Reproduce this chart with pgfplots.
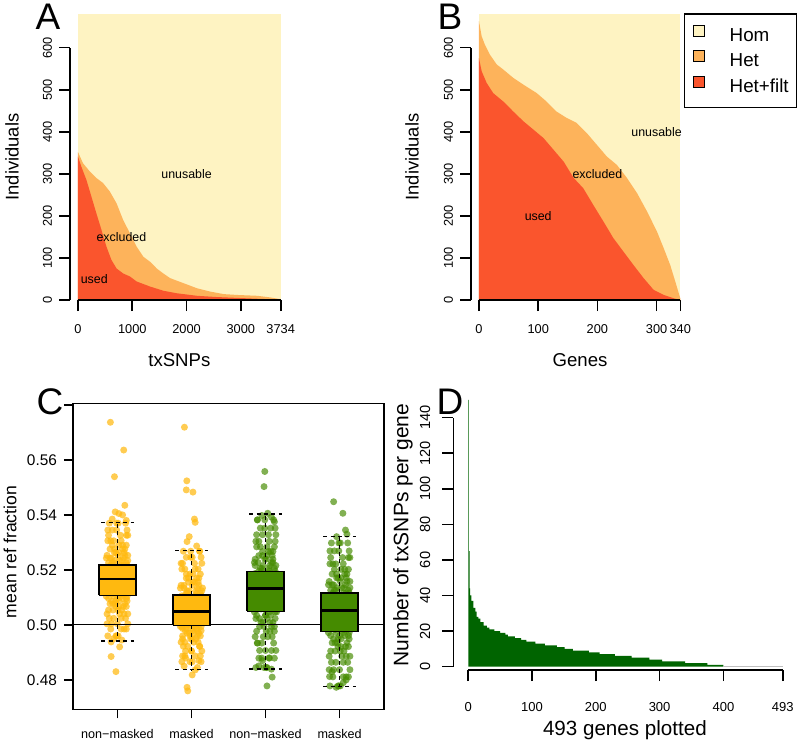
\documentclass[border=0pt]{standalone}
\usepackage{pgfplots}
\pgfplotsset{compat=1.18}
\usepackage{pgfplotstable}
\usepackage{fontspec}
\setmainfont{Liberation Sans}
\definecolor{hom}{HTML}{FEF3C2}
\definecolor{het}{HTML}{FDB35B}
\definecolor{hetf}{HTML}{FA552D}
\definecolor{gold}{HTML}{FFB90F}
\definecolor{grn}{HTML}{458B00}
\definecolor{dgreen}{HTML}{006400}
\newcommand{\fs}[1]{\fontsize{#1}{#1}\selectfont}

\pgfplotsset{
  rstyle/.style={scale only axis, axis lines*=left, axis line style={draw=none},
    tick align=outside, major tick length=5.5pt, minor tick num=0,
    every tick/.append style={black, line width=0.8pt},
    clip=false, enlargelimits=false,
    /pgf/number format/assume math mode=true},
  gpts/.style={only marks, mark=*, mark size=1.75pt,
    mark options={solid, fill=gold, draw=gold, fill opacity=0.72, draw opacity=0}},
  vpts/.style={only marks, mark=*, mark size=1.75pt,
    mark options={solid, fill=grn, draw=grn, fill opacity=0.68, draw opacity=0}},
  wsk/.style={black, line width=0.7pt, dash pattern=on 2pt off 1.7pt},
  bx/.style={solid, draw=black, line width=0.6pt},
  med/.style={solid, black, line width=1.4pt},
}

\pgfplotstableread{
y a b c
0.5167 -0.12 0.04 -0.06
0.5173 0.07 -0.13 0.12
0.5179 -0.02 0.11 0.03
0.5185 0.13 -0.06 -0.10
0.5190 -0.08 0.01 0.09
0.5197 0.03 -0.11 -0.02
0.5204 0.10 0.14 -0.13
0.5210 -0.14 0.06 0.01
0.5217 0.05 -0.09 0.13
0.5226 -0.05 0.12 -0.07
0.5234 0.14 -0.03 0.06
0.5243 -0.10 0.08 -0.15
0.5253 0.01 -0.14 0.10
0.5263 0.09 0.02 -0.04
0.5276 -0.04 0.10 0.07
0.5290 0.12 -0.07 0.02
0.5306 -0.13 0.05 -0.09
0.5326 0.04 -0.12 0.14
0.5345 -0.07 0.13 -0.01
0.5370 0.11 -0.01 -0.11
0.5163 -0.01 0.09 0.05
0.5157 0.08 -0.04 -0.13
0.5151 -0.11 0.12 0.02
0.5145 0.02 -0.13 0.10
0.5140 0.14 0.03 -0.07
0.5133 -0.09 0.07 0.12
0.5126 0.06 -0.10 -0.01
0.5120 -0.03 0.13 -0.10
0.5113 0.10 -0.06 0.04
0.5104 -0.15 0.05 0.13
0.5096 0.00 -0.12 0.07
0.5087 0.13 0.02 -0.08
0.5077 -0.06 0.10 -0.03
0.5067 0.08 -0.02 0.12
0.5054 -0.12 0.06 0.01
0.5040 0.03 -0.14 0.09
0.5024 0.11 -0.05 -0.11
0.5004 -0.08 0.14 0.00
0.4985 0.05 -0.09 0.12
0.4960 -0.02 0.01 -0.13
}\gA
\pgfplotstableread{
y a b c
0.5051 -0.12 0.04 -0.06
0.5057 0.07 -0.13 0.12
0.5063 -0.02 0.11 0.03
0.5070 0.13 -0.06 -0.10
0.5076 -0.08 0.01 0.09
0.5083 0.03 -0.11 -0.02
0.5090 0.10 0.14 -0.13
0.5098 -0.14 0.06 0.01
0.5106 0.05 -0.09 0.13
0.5115 -0.05 0.12 -0.07
0.5124 0.14 -0.03 0.06
0.5134 -0.10 0.08 -0.15
0.5144 0.01 -0.14 0.10
0.5156 0.09 0.02 -0.04
0.5170 -0.04 0.10 0.07
0.5185 0.12 -0.07 0.02
0.5203 -0.13 0.05 -0.09
0.5224 0.04 -0.12 0.14
0.5246 -0.07 0.13 -0.01
0.5268 0.11 -0.01 -0.11
0.5046 -0.01 0.09 0.05
0.5041 0.08 -0.04 -0.13
0.5036 -0.11 0.12 0.02
0.5030 0.02 -0.13 0.10
0.5025 0.14 0.03 -0.07
0.5020 -0.09 0.07 0.12
0.5014 0.06 -0.10 -0.01
0.5008 -0.03 0.13 -0.10
0.5001 0.10 -0.06 0.04
0.4994 -0.15 0.05 0.13
0.4987 0.00 -0.12 0.07
0.4979 0.13 0.02 -0.08
0.4970 -0.06 0.10 -0.03
0.4960 0.08 -0.02 0.12
0.4949 -0.12 0.06 0.01
0.4937 0.03 -0.14 0.09
0.4922 0.11 -0.05 -0.11
0.4905 -0.08 0.14 0.00
0.4887 0.05 -0.09 0.12
0.4866 -0.02 0.01 -0.13
}\gB
\pgfplotstableread{
y a b c
0.5135 -0.12 0.04 -0.06
0.5142 0.07 -0.13 0.12
0.5149 -0.02 0.11 0.03
0.5156 0.13 -0.06 -0.10
0.5163 -0.08 0.01 0.09
0.5171 0.03 -0.11 -0.02
0.5179 0.10 0.14 -0.13
0.5187 -0.14 0.06 0.01
0.5196 0.05 -0.09 0.13
0.5206 -0.05 0.12 -0.07
0.5216 0.14 -0.03 0.06
0.5227 -0.10 0.08 -0.15
0.5239 0.01 -0.14 0.10
0.5252 0.09 0.02 -0.04
0.5267 -0.04 0.10 0.07
0.5284 0.12 -0.07 0.02
0.5304 -0.13 0.05 -0.09
0.5328 0.04 -0.12 0.14
0.5352 -0.07 0.13 -0.01
0.5382 0.11 -0.01 -0.11
0.5129 -0.01 0.09 0.05
0.5121 0.08 -0.04 -0.13
0.5112 -0.11 0.12 0.02
0.5104 0.02 -0.13 0.10
0.5096 0.14 0.03 -0.07
0.5087 -0.09 0.07 0.12
0.5078 0.06 -0.10 -0.01
0.5069 -0.03 0.13 -0.10
0.5058 0.10 -0.06 0.04
0.5047 -0.15 0.05 0.13
0.5035 0.00 -0.12 0.07
0.5023 0.13 0.02 -0.08
0.5009 -0.06 0.10 -0.03
0.4994 0.08 -0.02 0.12
0.4977 -0.12 0.06 0.01
0.4957 0.03 -0.14 0.09
0.4934 0.11 -0.05 -0.11
0.4907 -0.08 0.14 0.00
0.4879 0.05 -0.09 0.12
0.4845 -0.02 0.01 -0.13
}\gC
\pgfplotstableread{
y a b c
0.5056 -0.12 0.04 -0.06
0.5063 0.07 -0.13 0.12
0.5070 -0.02 0.11 0.03
0.5077 0.13 -0.06 -0.10
0.5083 -0.08 0.01 0.09
0.5091 0.03 -0.11 -0.02
0.5099 0.10 0.14 -0.13
0.5107 -0.14 0.06 0.01
0.5116 0.05 -0.09 0.13
0.5126 -0.05 0.12 -0.07
0.5135 0.14 -0.03 0.06
0.5146 -0.10 0.08 -0.15
0.5158 0.01 -0.14 0.10
0.5171 0.09 0.02 -0.04
0.5185 -0.04 0.10 0.07
0.5202 0.12 -0.07 0.02
0.5222 -0.13 0.05 -0.09
0.5245 0.04 -0.12 0.14
0.5269 -0.07 0.13 -0.01
0.5298 0.11 -0.01 -0.11
0.5050 -0.01 0.09 0.05
0.5042 0.08 -0.04 -0.13
0.5034 -0.11 0.12 0.02
0.5027 0.02 -0.13 0.10
0.5019 0.14 0.03 -0.07
0.5010 -0.09 0.07 0.12
0.5001 0.06 -0.10 -0.01
0.4993 -0.03 0.13 -0.10
0.4983 0.10 -0.06 0.04
0.4972 -0.15 0.05 0.13
0.4961 0.00 -0.12 0.07
0.4949 0.13 0.02 -0.08
0.4935 -0.06 0.10 -0.03
0.4921 0.08 -0.02 0.12
0.4905 -0.12 0.06 0.01
0.4886 0.03 -0.14 0.09
0.4864 0.11 -0.05 -0.11
0.4837 -0.08 0.14 0.00
0.4811 0.05 -0.09 0.12
0.4778 -0.02 0.01 -0.13
}\gD

\begin{document}
\begin{tikzpicture}
\useasboundingbox (0,0) rectangle (400pt,-372pt);

% ---------------- Panel A ----------------
\begin{axis}[rstyle, at={(35pt,-150pt)}, anchor=south west,
  width=105.35pt, height=143pt,
  xmin=-147, xmax=3734, ymin=0, ymax=680,
  xtick={0,1000,2000,3000,3734}, xticklabels={0,1000,2000,3000,3734},
  ytick={0,100,200,300,400,500,600}, yticklabels={0,100,200,300,400,500,600},
  xticklabel style={font=\fs{6.4}, yshift=-3pt},
  yticklabel style={font=\fs{6.4}, rotate=90, anchor=south},
  xlabel={txSNPs}, ylabel={Individuals},
  xlabel style={font=\fs{9.3}, at={(axis description cs:0.519,-0.21)}, anchor=center},
  ylabel style={font=\fs{9.2}, at={(axis description cs:-0.275,0.5)}, anchor=center},
]
\addplot[fill=hom, draw=none] coordinates {(0,0) (0,680) (3734,680) (3734,0)};
\addplot[fill=het, draw=none] coordinates {(0,0) (0,352) (93,325) (216,306) (339,290) (463,278) (586,258) (710,230) (833,190) (956,159) (1080,127) (1203,103) (1327,91) (1450,75) (1573,63) (1697,52) (1944,40) (2190,28) (2437,20) (2684,14) (2931,12) (3301,10) (3548,6) (3734,2) (3734,0)};
\addplot[fill=hetf, draw=none] coordinates {(0,0) (0,341) (62,317) (154,286) (247,246) (339,206) (432,167) (524,127) (617,95) (710,75) (833,63) (956,56) (1080,44) (1327,32) (1573,22) (1820,16) (2190,10) (2561,7) (2931,5) (3301,3) (3734,1) (3734,0)};
\draw[line width=0.8pt] (axis cs:-147,0) -- (axis cs:-147,600);
\draw[line width=0.8pt] (axis cs:0,0) -- (axis cs:3734,0);
\node[font=\fs{6.2}] at (axis cs:2000,300) {unusable};
\node[font=\fs{6.2}] at (axis cs:800,150) {excluded};
\node[font=\fs{6.2}] at (axis cs:300,50) {used};
\end{axis}

% ---------------- Panel B ----------------
\begin{axis}[rstyle, at={(235.5pt,-150pt)}, anchor=south west,
  width=104.65pt, height=143pt,
  xmin=-13.5, xmax=340, ymin=0, ymax=680,
  xtick={0,100,200,300,340}, xticklabels={0,100,200,300,340},
  ytick={0,100,200,300,400,500,600}, yticklabels={0,100,200,300,400,500,600},
  xticklabel style={font=\fs{6.4}, yshift=-3pt},
  yticklabel style={font=\fs{6.4}, rotate=90, anchor=south},
  xlabel={Genes}, ylabel={Individuals},
  xlabel style={font=\fs{9.3}, at={(axis description cs:0.521,-0.21)}, anchor=center},
  ylabel style={font=\fs{9.2}, at={(axis description cs:-0.282,0.5)}, anchor=center},
  legend cell align=left,
  legend style={at={(axis description cs:1.559,1.0024)}, anchor=north east,
    draw=black, line width=0.6pt, font=\fs{9.4},
    inner xsep=4pt, inner ysep=5.5pt, row sep=2.5pt, column sep=12.5pt,
    nodes={inner sep=0pt, text height=7pt, text depth=2pt}},
  legend image code/.code={\draw[#1, draw=black, line width=0.5pt] (0pt,0pt) rectangle (5.5pt,5.5pt);},
]
\addplot[fill=hom, draw=none] coordinates {(0,0) (0,680) (340,680) (340,0)};
\addlegendentry{Hom}
\addplot[fill=het, draw=none] coordinates {(0,0) (0,663) (4.5,627) (10,607) (18.6,583) (30,560) (41,548) (58,528) (75,512) (97.5,492) (114,472) (131,448) (148,433) (165,421) (182,397) (199,369) (216,341) (233,321) (250,290) (267,254) (284,210) (300.5,163) (312,123) (323,83) (331.5,44) (340,4) (340,0)};
\addlegendentry{Het}
\addplot[fill=hetf, draw=none] coordinates {(0,0) (0,575) (4.5,544) (13,516) (24,492) (41,472) (58,448) (75,425) (92,405) (109,385) (126,357) (143,329) (160,290) (176,266) (193,226) (210,187) (227,147) (244,115) (261,83) (278,52) (295,24) (312,12) (329,4) (340,0)};
\addlegendentry{Het+filt}
\draw[line width=0.8pt] (axis cs:-13.5,0) -- (axis cs:-13.5,600);
\draw[line width=0.8pt] (axis cs:0,0) -- (axis cs:340,0);
\node[font=\fs{6.2}] at (axis cs:300,400) {unusable};
\node[font=\fs{6.2}] at (axis cs:200,300) {excluded};
\node[font=\fs{6.2}] at (axis cs:100,200) {used};
\end{axis}

% ---------------- Panel C ----------------
\begin{axis}[scale only axis, at={(36.5pt,-354.65pt)}, anchor=south west,
  width=155.5pt, height=153pt,
  xmin=0.4, xmax=4.6, ymin=0.4693, ymax=0.5806,
  axis line style={line width=0.65pt},
  tick align=outside, tick pos=left, major tick length=4.5pt,
  every tick/.append style={black, line width=0.65pt},
  xtick={1,2,3,4}, xticklabels={non−masked, masked, non−masked, masked},
  ytick={0.48,0.50,0.52,0.54,0.56,0.58}, yticklabels={0.48,0.50,0.52,0.54,0.56,{}},
  xticklabel style={font=\fs{6.3}, yshift=-2pt},
  yticklabel style={font=\fs{7.7}},
  ylabel={mean ref fraction},
  ylabel style={font=\fs{8.8}, at={(axis description cs:-0.2026,0.514)}, anchor=center},
  clip=false, clip marker paths=true,
  /pgf/number format/assume math mode=true,
]
\addplot[gpts] table[x expr=1+\thisrow{a}, y=y] {\gA};
\addplot[gpts] table[x expr=1+\thisrow{b}, y=y] {\gA};
\addplot[gpts] table[x expr=1+\thisrow{c}, y=y] {\gA};
\addplot[gpts] table[x expr=1-\thisrow{b}, y=y] {\gA};
\addplot[gpts] coordinates {(0.905,0.5737) (1.085,0.5636) (0.96,0.5539) (1.10,0.5435) (0.97,0.5411) (1.07,0.5400) (1.02,0.5405) (0.93,0.5385) (1.12,0.5380) (0.915,0.4885) (0.98,0.4830) (1.03,0.4920) (0.915,0.4938) (1.06,0.4945) (0.95,0.4950)};
\addplot[gpts] table[x expr=2+\thisrow{b}, y=y] {\gB};
\addplot[gpts] table[x expr=2+\thisrow{c}, y=y] {\gB};
\addplot[gpts] table[x expr=2+\thisrow{a}, y=y] {\gB};
\addplot[gpts] table[x expr=2-\thisrow{c}, y=y] {\gB};
\addplot[gpts] coordinates {(1.905,0.5719) (1.937,0.5524) (1.93,0.5491) (2.02,0.5483) (2.04,0.5385) (2.05,0.5373) (1.97,0.5321) (1.94,0.5303) (2.07,0.5287) (1.94,0.4773) (1.95,0.4760) (2.01,0.4818) (2.05,0.4836) (1.90,0.4850) (2.08,0.4845) (1.92,0.4880) (2.10,0.4870)};
\addplot[vpts] table[x expr=3+\thisrow{c}, y=y] {\gC};
\addplot[vpts] table[x expr=3+\thisrow{a}, y=y] {\gC};
\addplot[vpts] table[x expr=3+\thisrow{b}, y=y] {\gC};
\addplot[vpts] table[x expr=3-\thisrow{a}, y=y] {\gC};
\addplot[vpts] coordinates {(2.99,0.5558) (2.98,0.5503) (3.03,0.5406) (3.08,0.5392) (2.95,0.5398) (3.12,0.5375) (2.91,0.4851) (3.08,0.4839) (3.09,0.4810) (3.02,0.4778) (2.96,0.4870) (3.05,0.4880)};
\addplot[vpts] table[x expr=4+\thisrow{a}, y=y] {\gD};
\addplot[vpts] table[x expr=4+\thisrow{c}, y=y] {\gD};
\addplot[vpts] table[x expr=4+\thisrow{b}, y=y] {\gD};
\addplot[vpts] table[x expr=4-\thisrow{b}, y=y] {\gD};
\addplot[vpts] coordinates {(3.92,0.5448) (4.045,0.5406) (4.08,0.5345) (3.96,0.5321) (4.10,0.5330) (3.955,0.4773) (4.09,0.4800) (3.865,0.4812) (4.05,0.4790) (3.90,0.4830)};
\addplot[solid, black, line width=0.6pt] coordinates {(0.4,0.5) (4.6,0.5)};
% box 1
\addplot[wsk] coordinates {(1,0.5218) (1,0.5372)};
\addplot[wsk] coordinates {(1,0.5107) (1,0.4941)};
\addplot[wsk] coordinates {(0.78,0.5372) (1.22,0.5372)};
\addplot[wsk] coordinates {(0.78,0.4941) (1.22,0.4941)};
\addplot[bx, fill=gold] coordinates {(0.75,0.5107) (1.25,0.5107) (1.25,0.5218) (0.75,0.5218) (0.75,0.5107)};
\addplot[med] coordinates {(0.75,0.5167) (1.25,0.5167)};
% box 2
\addplot[wsk] coordinates {(2,0.5109) (2,0.5270)};
\addplot[wsk] coordinates {(2,0.4999) (2,0.4837)};
\addplot[wsk] coordinates {(1.78,0.5270) (2.22,0.5270)};
\addplot[wsk] coordinates {(1.78,0.4837) (2.22,0.4837)};
\addplot[bx, fill=gold] coordinates {(1.75,0.4999) (2.25,0.4999) (2.25,0.5109) (1.75,0.5109) (1.75,0.4999)};
\addplot[med] coordinates {(1.75,0.5048) (2.25,0.5048)};
% box 3
\addplot[wsk] coordinates {(3,0.5194) (3,0.5404)};
\addplot[wsk] coordinates {(3,0.5050) (3,0.4839)};
\addplot[wsk] coordinates {(2.78,0.5404) (3.22,0.5404)};
\addplot[wsk] coordinates {(2.78,0.4839) (3.22,0.4839)};
\addplot[bx, fill=grn] coordinates {(2.75,0.5050) (3.25,0.5050) (3.25,0.5194) (2.75,0.5194) (2.75,0.5050)};
\addplot[med] coordinates {(2.75,0.5132) (3.25,0.5132)};
% box 4
\addplot[wsk] coordinates {(4,0.5116) (4,0.5321)};
\addplot[wsk] coordinates {(4,0.4975) (4,0.4776)};
\addplot[wsk] coordinates {(3.78,0.5321) (4.22,0.5321)};
\addplot[wsk] coordinates {(3.78,0.4776) (4.22,0.4776)};
\addplot[bx, fill=grn] coordinates {(3.75,0.4975) (4.25,0.4975) (4.25,0.5116) (3.75,0.5116) (3.75,0.4975)};
\addplot[med] coordinates {(3.75,0.5053) (4.25,0.5053)};
\end{axis}

% ---------------- Panel D ----------------
\begin{axis}[rstyle, at={(226.65pt,-335pt)}, anchor=south west,
  width=164.7pt, height=135.05pt,
  xmin=-23.5, xmax=493, ymin=-1.9, ymax=150,
  xtick={0,100,200,300,400,493}, xticklabels={0,100,200,300,400,493},
  ytick={0,20,40,60,80,100,120,140}, yticklabels={0,20,40,60,80,100,120,140},
  xticklabel style={font=\fs{6.5}, yshift=-7.3pt},
  yticklabel style={font=\fs{7.3}, xshift=-2.5pt, rotate=90, anchor=south},
  xlabel={493 genes plotted}, ylabel={Number of txSNPs per gene},
  xlabel style={font=\fs{10.3}, at={(axis description cs:0.521,-0.222)}, anchor=center},
  ylabel style={font=\fs{10.5}, at={(axis description cs:-0.153,0.5)}, anchor=center},
]
\addplot[const plot, fill=dgreen, draw=none] coordinates {(0,0) (0,150) (1,65) (2,44) (3,40) (5,37) (8,33) (11,31) (13,28) (16,27) (19,25) (24,23) (29,22) (33,21) (41,20) (50,19) (58,18) (62,17) (73,16) (83,15) (91,14) (105,13) (120,12) (139,11) (151,10) (164,9) (189,8) (206,7) (230,6) (256,5) (284,4) (304,3) (340,2) (375,1) (400,0)};
\addplot[gray!50, line width=0.4pt] coordinates {(400,0) (493,0)};
\draw[line width=0.8pt] (axis cs:-23.5,0) -- (axis cs:-23.5,140);
\draw[line width=0.8pt] (axis cs:0,-1.9) -- (axis cs:493,-1.9);
\end{axis}

\node[font=\fs{18.5}, anchor=base] at (24pt,-15pt) {A};
\node[font=\fs{18.5}, anchor=base] at (225pt,-14.7pt) {B};
\node[font=\fs{18.5}, anchor=base] at (25pt,-207.5pt) {C};
\node[font=\fs{18.5}, anchor=base] at (225pt,-207.2pt) {D};
\end{tikzpicture}
\end{document}
